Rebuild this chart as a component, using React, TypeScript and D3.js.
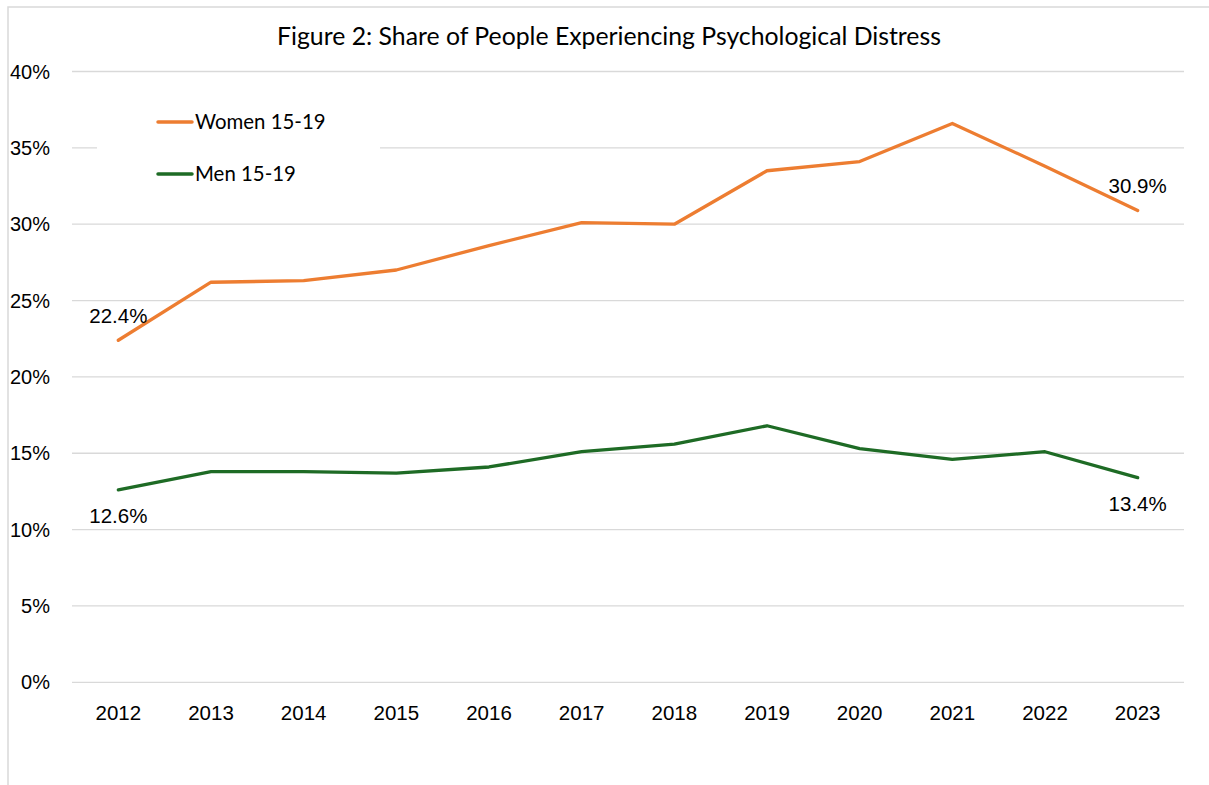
import React from "react";
import * as d3 from "d3";

const years = ["2012", "2013", "2014", "2015", "2016", "2017", "2018", "2019", "2020", "2021", "2022", "2023"];
const women = [22.4, 26.2, 26.3, 27.0, 28.6, 30.1, 30.0, 33.5, 34.1, 36.6, 33.8, 30.9];
const men = [12.6, 13.8, 13.8, 13.7, 14.1, 15.1, 15.6, 16.8, 15.3, 14.6, 15.1, 13.4];
const yTicks = [0, 5, 10, 15, 20, 25, 30, 35, 40];

const W = 1209;
const H = 785;
const margin = { top: 71.5, right: 25, bottom: 102.7, left: 72 };

const App = () => {
  const x = d3
    .scaleBand()
    .domain(years)
    .range([margin.left, W - margin.right]);
  const y = d3
    .scaleLinear()
    .domain([0, 40])
    .range([H - margin.bottom, margin.top]);
  const cx = (d: string) => (x(d) ?? 0) + x.bandwidth() / 2;

  const line = d3
    .line<number>()
    .x((_, i) => cx(years[i]))
    .y((d) => y(d));

  const series = [
    { name: "Women 15-19", values: women, color: "#ED7D31" },
    { name: "Men 15-19", values: men, color: "#1E6B25" },
  ];

  const last = years.length - 1;
  // baseline offset from the point
  const labels = [
    { i: 0, v: women[0], dy: -17 },
    { i: last, v: women[last], dy: -17 },
    { i: 0, v: men[0], dy: 33 },
    { i: last, v: men[last], dy: 33 },
  ];

  const axisFont = "'Liberation Sans', Arial, sans-serif";
  const titleFont = "Lato, 'Open Sans', sans-serif";

  return (
    <svg
      width={W}
      height={H}
      style={{ position: "absolute", left: 0, top: 0, background: "#fff" }}
    >
      <rect x={8} y={7} width={W + 10} height={H + 10} fill="#fff" stroke="#d9d9d9" strokeWidth={1.5} />
      <text x={609} y={45} textAnchor="middle" fontFamily={titleFont} fontSize={24.8} fill="#000">
        Figure 2: Share of People Experiencing Psychological Distress
      </text>
      {yTicks.map((t) => (
        <g key={t}>
          <line
            x1={margin.left}
            x2={W - margin.right}
            y1={y(t)}
            y2={y(t)}
            stroke="#d9d9d9"
            strokeWidth={1.3}
          />
          <text x={50} y={y(t) + 7} textAnchor="end" fontFamily={axisFont} fontSize={20} fill="#000">
            {t}%
          </text>
        </g>
      ))}
      {years.map((yr) => (
        <text
          key={yr}
          x={cx(yr)}
          y={y(0) + 37.5}
          textAnchor="middle"
          fontFamily={axisFont}
          fontSize={20.5}
          fill="#000"
        >
          {yr}
        </text>
      ))}
      {/* legend box hides the gridline behind it */}
      <rect x={97} y={97} width={283} height={100} fill="#fff" />
      {series.map((s, k) => (
        <g key={s.name} transform={`translate(158,${122 + k * 52})`}>
          <line x1={0} x2={34} y1={0} y2={0} stroke={s.color} strokeWidth={3.5} strokeLinecap="round" />
          <text x={37} y={7} fontFamily={titleFont} fontSize={20.4} fill="#000">
            {s.name}
          </text>
        </g>
      ))}
      {series.map((s) => (
        <path
          key={s.name}
          d={line(s.values) ?? ""}
          fill="none"
          stroke={s.color}
          strokeWidth={3.3}
          strokeLinejoin="round"
          strokeLinecap="round"
        />
      ))}
      {labels.map((l, k) => (
        <text
          key={k}
          x={cx(years[l.i])}
          y={y(l.v) + l.dy}
          textAnchor="middle"
          fontFamily={axisFont}
          fontSize={20.5}
          fill="#000"
        >
          {l.v.toFixed(1)}%
        </text>
      ))}
    </svg>
  );
};

export default App;
